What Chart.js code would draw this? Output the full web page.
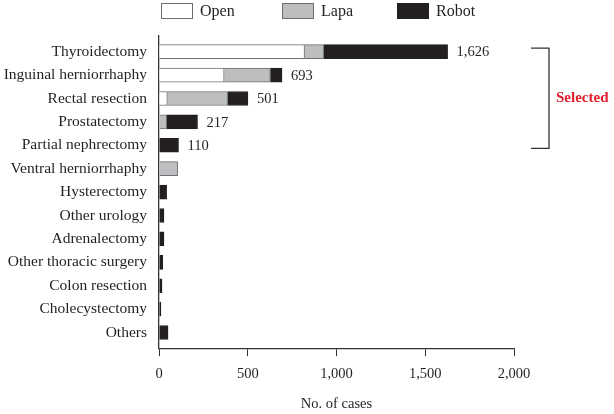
<!DOCTYPE html>
<html>
<head>
<meta charset="utf-8">
<script src="https://cdn.jsdelivr.net/npm/chart.js@4.4.1/dist/chart.umd.min.js"></script>
<style>
  html, body { margin: 0; padding: 0; background: #fff; }
  #wrap { width: 614px; height: 414px; }
</style>
</head>
<body>
<div id="wrap"><canvas id="casesChart" width="614" height="414"></canvas></div>
<script>
// Surgery types (top to bottom)
const categories = [
    'Thyroidectomy', 'Inguinal herniorrhaphy', 'Rectal resection', 'Prostatectomy',
    'Partial nephrectomy', 'Ventral herniorrhaphy', 'Hysterectomy', 'Other urology',
    'Adrenalectomy', 'Other thoracic surgery', 'Colon resection', 'Cholecystectomy', 'Others'
];

// Cases by approach
const openCases  = [820, 367, 47, 0, 0, 0, 0, 0, 0, 0, 0, 0, 0];
const lapaCases  = [107, 260, 339, 43, 0, 105, 0, 0, 0, 0, 0, 0, 0];
const robotCases = [699, 66, 115, 174, 110, 0, 43, 28, 28, 21, 17, 11, 51];

// Totals printed next to the selected bars
const totalLabels = ['1,626', '693', '501', '217', '110'];
const selectedCount = 5;

const xTicks = [0, 500, 1000, 1500, 2000];

const serif = '"Liberation Serif", "DejaVu Serif", serif';
const textColor = '#231f20';

// a bit of extra room above the first and below the last category
const categoryPad = 0.17;
const categoryPadPlugin = {
    id: 'categoryPad',
    afterLayout(chart) {
        const ys = chart.scales.y;
        ys._startValue = -0.5 - categoryPad;
        ys._valueRange = categories.length + 2 * categoryPad;
    }
};

// Totals, bracket and custom legend
const extrasPlugin = {
    id: 'extras',
    afterDatasetsDraw(chart) {
        const ctx = chart.ctx;
        const xs = chart.scales.x;
        const ys = chart.scales.y;

        ctx.save();
        ctx.font = '14.5px ' + serif;
        ctx.fillStyle = textColor;
        ctx.textBaseline = 'middle';
        ctx.textAlign = 'left';
        totalLabels.forEach((label, i) => {
            const total = openCases[i] + lapaCases[i] + robotCases[i];
            ctx.fillText(label, xs.getPixelForValue(total) + 9, ys.getPixelForValue(i) + 1);
        });

        // bracket around the selected procedures
        const top = ys.getPixelForValue(0) - 3.5;
        const bottom = ys.getPixelForValue(selectedCount - 1) + 3;
        ctx.strokeStyle = '#333';
        ctx.lineWidth = 1.3;
        ctx.beginPath();
        ctx.moveTo(531, top);
        ctx.lineTo(549, top);
        ctx.lineTo(549, bottom);
        ctx.lineTo(531, bottom);
        ctx.stroke();

        ctx.font = 'bold 15px ' + serif;
        ctx.fillStyle = '#e3202b';
        ctx.fillText('Selected', 556, (top + bottom) / 2);

        // legend
        const legendX = [161, 282, 397];
        ctx.font = '16px ' + serif;
        chart.data.datasets.forEach((ds, i) => {
            ctx.fillStyle = ds.backgroundColor;
            ctx.fillRect(legendX[i], 3.5, 31, 15);
            ctx.strokeStyle = ds.borderColor;
            ctx.lineWidth = 1;
            ctx.strokeRect(legendX[i] + 0.5, 3.5, 31, 15);
            ctx.fillStyle = textColor;
            ctx.fillText(ds.label, legendX[i] + 39, 12);
        });
        ctx.restore();
    }
};

const ctx = document.getElementById('casesChart');
const casesChart = new Chart(ctx, {
    type: 'bar',
    data: {
        labels: categories,
        datasets: [
            { label: 'Open', data: openCases, backgroundColor: '#ffffff', borderColor: '#6d6e71', borderWidth: 1 },
            { label: 'Lapa', data: lapaCases, backgroundColor: '#bcbec0', borderColor: '#6d6e71', borderWidth: 1 },
            { label: 'Robot', data: robotCases, backgroundColor: '#231f20', borderColor: '#231f20', borderWidth: 1 }
        ]
    },
    options: {
        indexAxis: 'y',
        responsive: false,
        animation: false,
        barThickness: 14,
        layout: {
            padding: { top: 36, right: 100, bottom: 1, left: 2 }
        },
        plugins: {
            legend: { display: false },
            tooltip: { enabled: false }
        },
        scales: {
            x: {
                stacked: true,
                min: 0,
                max: 2000,
                afterBuildTicks: axis => {
                    axis.ticks = xTicks.map(v => ({ value: v }));
                },
                grid: {
                    drawOnChartArea: false,
                    drawTicks: true,
                    tickLength: 8,
                    color: '#333'
                },
                border: { color: '#333', width: 1.3 },
                ticks: {
                    color: textColor,
                    padding: 9,
                    font: { family: serif, size: 14.5 },
                    callback: v => v.toLocaleString('en-US')
                },
                title: {
                    display: true,
                    text: 'No. of cases',
                    color: textColor,
                    font: { family: serif, size: 14.5 },
                    padding: { top: 4, bottom: 0 }
                }
            },
            y: {
                stacked: true,
                afterFit: axis => { axis.width = 157; },
                grid: { display: false, drawTicks: false },
                border: { color: '#333', width: 1.3 },
                ticks: {
                    color: textColor,
                    padding: 12,
                    autoSkip: false,
                    font: { family: serif, size: 15.5 }
                }
            }
        }
    },
    plugins: [categoryPadPlugin, extrasPlugin]
});
</script>
</body>
</html>
